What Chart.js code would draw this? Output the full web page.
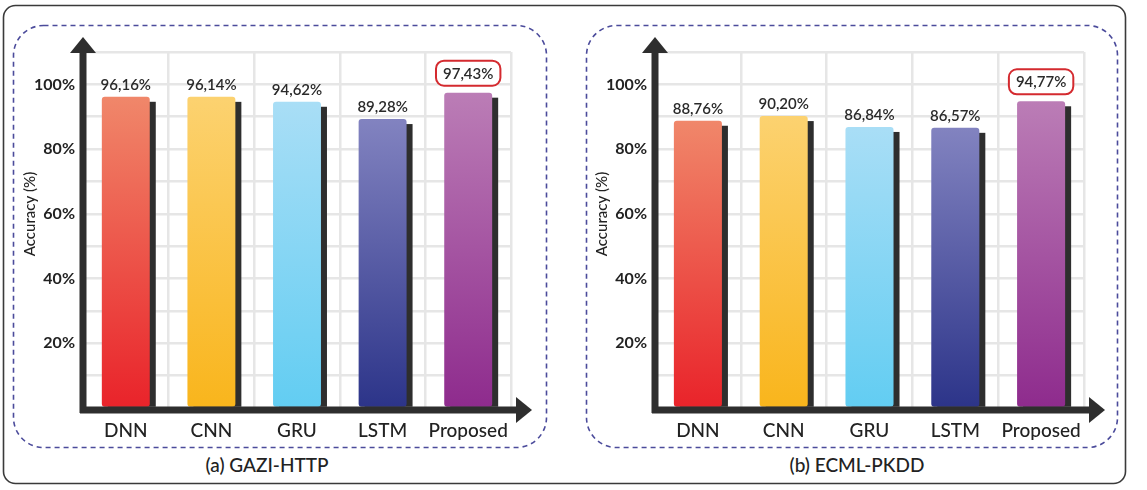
<!DOCTYPE html>
<html>
<head>
<meta charset="utf-8">
<script src="https://cdn.jsdelivr.net/npm/chart.js@4.4.1/dist/chart.umd.min.js"></script>
<style>
  body { margin: 0; background: #fff; font-family: Lato, "Noto Sans", sans-serif; }
  #page { position: relative; width: 1147px; height: 490px; overflow: hidden; }
  .cap { position: absolute; top: 453px; font-size: 19px; font-weight: 500; color: #222; text-align: center; width: 300px; }
  svg, canvas { position: absolute; left: 0; top: 0; }
</style>
</head>
<body>
<div id="page">
  <svg width="1147" height="490">
    <rect x="3.5" y="5.5" width="1122" height="478" rx="12" fill="none" stroke="#3a3a3a" stroke-width="1.6"/>
    <rect x="13.5" y="25.5" width="533" height="422" rx="30" fill="none" stroke="#4b4b9b" stroke-width="1.6" stroke-dasharray="5 4"/>
    <rect x="586.5" y="25.5" width="531" height="422" rx="30" fill="none" stroke="#4b4b9b" stroke-width="1.6" stroke-dasharray="5 4"/>
  </svg>
  <div class="cap" style="left:117px">(a) GAZI-HTTP</div>
  <div class="cap" style="left:707px">(b) ECML-PKDD</div>
  <canvas id="chartA" width="1147" height="490"></canvas>
  <canvas id="chartB" width="1147" height="490"></canvas>
</div>
<script>
// données
const categories = ['DNN', 'CNN', 'GRU', 'LSTM', 'Proposed'];
const gaziAcc = [96.16, 96.14, 94.62, 89.28, 97.43];
const ecmlAcc = [88.76, 90.20, 86.84, 86.57, 94.77];
const yTickLabels = [20, 40, 60, 80, 100];
const yTitle = 'Accuracy (%)';
const topColors = ['#F0876A', '#FCD270', '#A9DEF6', '#8283C0', '#BB7DB6'];
const bottomColors = ['#E9232A', '#F9B51C', '#62CDF2', '#2C3489', '#8E2B8D'];
const highlightIndex = 4;

const dark = '#2e2e2e';
const gridColor = '#e6e6e6';

// ombre portée derrière chaque barre
const shadowPlugin = {
    id: 'shadow',
    beforeDatasetsDraw(chart) {
        const ctx = chart.ctx;
        ctx.save();
        ctx.fillStyle = dark;
        chart.getDatasetMeta(0).data.forEach(bar => {
            const p = bar.getProps(['x', 'y', 'base', 'width'], true);
            ctx.fillRect(p.x - p.width / 2 + 6, p.y + 5, p.width, p.base - p.y - 5);
        });
        ctx.restore();
    }
};

// axes épais avec flèches, titre de l'axe y, étiquettes de valeur
const axesPlugin = {
    id: 'arrowAxes',
    afterDatasetsDraw(chart) {
        const ctx = chart.ctx;
        const a = chart.chartArea;
        const yLine = a.bottom + 2;
        ctx.save();
        ctx.fillStyle = dark;
        ctx.strokeStyle = dark;
        ctx.lineWidth = 7;
        ctx.beginPath();
        ctx.moveTo(a.left, yLine + 3);
        ctx.lineTo(a.left, a.top);
        ctx.moveTo(a.left - 3, yLine);
        ctx.lineTo(a.right + 8, yLine);
        ctx.stroke();
        // flèche verticale
        ctx.beginPath();
        ctx.moveTo(a.left, a.top - 15);
        ctx.lineTo(a.left + 13, a.top + 1);
        ctx.lineTo(a.left - 13, a.top + 1);
        ctx.closePath();
        ctx.fill();
        // flèche horizontale
        ctx.beginPath();
        ctx.moveTo(a.right + 21, yLine);
        ctx.lineTo(a.right + 5, yLine - 13);
        ctx.lineTo(a.right + 5, yLine + 13);
        ctx.closePath();
        ctx.fill();

        // titre de l'axe y
        ctx.save();
        ctx.translate(a.left - 53, 214);
        ctx.rotate(-Math.PI / 2);
        ctx.font = '500 15px Lato, "Noto Sans", sans-serif';
        ctx.fillStyle = '#222';
        ctx.textAlign = 'center';
        ctx.textBaseline = 'middle';
        ctx.fillText(yTitle, 0, 0);
        ctx.restore();

        // étiquettes
        const values = chart.data.datasets[0].data;
        ctx.font = '600 15px Lato, "Noto Sans", sans-serif';
        ctx.textAlign = 'center';
        ctx.textBaseline = 'middle';
        chart.getDatasetMeta(0).data.forEach((bar, i) => {
            const txt = values[i].toFixed(2).replace('.', ',') + '%';
            if (i === highlightIndex) {
                const cy = bar.y - 19;
                const w = ctx.measureText(txt).width + 14;
                ctx.beginPath();
                ctx.roundRect(bar.x - w / 2, cy - 13, w, 25, 8);
                ctx.fillStyle = '#fff';
                ctx.fill();
                ctx.lineWidth = 2;
                ctx.strokeStyle = '#D42A2F';
                ctx.stroke();
                ctx.fillStyle = '#2a2a2a';
                ctx.fillText(txt, bar.x, cy);
            } else {
                ctx.fillStyle = '#2a2a2a';
                ctx.fillText(txt, bar.x, bar.y - 12);
            }
        });
        ctx.restore();
    }
};

function barGradient(context) {
    const chart = context.chart;
    const i = context.dataIndex;
    if (!chart.chartArea) return topColors[i];
    const yTop = chart.scales.y.getPixelForValue(context.dataset.data[i]);
    const yBot = chart.scales.y.getPixelForValue(0);
    const g = chart.ctx.createLinearGradient(0, yTop, 0, yBot);
    g.addColorStop(0, topColors[i]);
    g.addColorStop(1, bottomColors[i]);
    return g;
}

function makeChart(id, values, padLeft, areaLeft, areaRight) {
    return new Chart(document.getElementById(id), {
        type: 'bar',
        data: {
            labels: categories,
            datasets: [{
                data: values,
                backgroundColor: barGradient,
                borderRadius: 3,
                borderSkipped: false,
                categoryPercentage: 1,
                barPercentage: 0.56
            }]
        },
        options: {
            responsive: false,
            animation: false,
            layout: { padding: { left: padLeft, right: 1147 - areaRight, top: 52, bottom: 0 } },
            plugins: { legend: { display: false }, tooltip: { enabled: false } },
            scales: {
                x: {
                    grid: { color: gridColor, lineWidth: 2.5, drawTicks: false, offset: true },
                    border: { display: false },
                    ticks: { color: '#222', padding: 11, font: { family: 'Lato', size: 19, weight: '500' } },
                    afterFit: s => { s.height = 82; }
                },
                y: {
                    min: 0, max: 110,
                    grid: { color: gridColor, lineWidth: 2.5, drawTicks: false },
                    border: { display: false },
                    ticks: {
                        stepSize: 10, padding: 8, color: '#222',
                        font: { family: 'Lato', size: 16, weight: 'bold' },
                        callback: v => yTickLabels.includes(v) ? v + '%' : ''
                    },
                    afterFit: s => { s.width = areaLeft - padLeft; }
                }
            }
        },
        plugins: [shadowPlugin, axesPlugin]
    });
}

makeChart('chartA', gaziAcc, 17, 83, 511);
makeChart('chartB', ecmlAcc, 590, 655, 1084);
</script>
</body>
</html>
